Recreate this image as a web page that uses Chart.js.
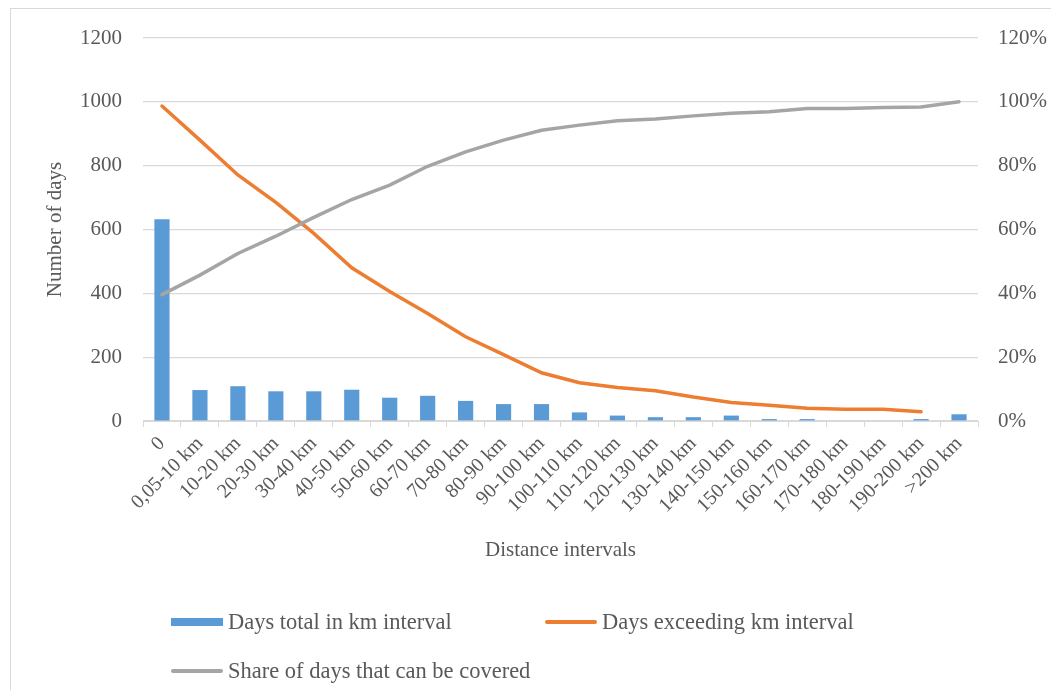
<!DOCTYPE html>
<html>
<head>
<meta charset="utf-8">
<script src="https://cdn.jsdelivr.net/npm/chart.js@4"></script>
<style>
  body { margin: 0; background: #fff; }
  #wrap { position: relative; width: 1051px; height: 690px; overflow: hidden; }
  #frame { position: absolute; left: 10px; top: 8px; width: 1060px; height: 700px; border: 1px solid #d9d9d9; }
  #chart { position: absolute; left: 0; top: 0; }
  .lg { position: absolute; display: flex; align-items: center; font: 22.5px "Liberation Serif", serif; color: #595959; white-space: nowrap; }
  .lg span.sym { display: inline-block; width: 52px; margin-right: 5px; }
</style>
</head>
<body>
<div id="wrap">
  <div id="frame"></div>
  <canvas id="chart" width="1051" height="690"></canvas>
  <div id="legend"></div>
</div>
<script>
const categories = ['0', '0,05-10 km', '10-20 km', '20-30 km', '30-40 km', '40-50 km', '50-60 km', '60-70 km',
  '70-80 km', '80-90 km', '90-100 km', '100-110 km', '110-120 km', '120-130 km', '130-140 km', '140-150 km',
  '150-160 km', '160-170 km', '170-180 km', '180-190 km', '190-200 km', '>200 km'];
const daysTotal = [632, 97, 109, 93, 93, 98, 73, 79, 63, 53, 53, 27, 17, 12, 12, 17, 6, 6, 0, 0, 6, 21];
const daysExceeding = [987, 880, 771, 685, 588, 480, 406, 337, 264, 208, 151, 120, 105, 95, 75, 58, 49, 40, 37, 37, 29, null];
const shareCovered = [39.6, 45.7, 52.5, 57.9, 63.8, 69.4, 73.9, 79.8, 84.3, 88.0, 91.1, 92.7, 94.1, 94.6, 95.6, 96.4, 96.9, 97.9, 97.9, 98.2, 98.4, 100];
const leftTicks = [0, 200, 400, 600, 800, 1000, 1200];
const rightTicks = [0, 20, 40, 60, 80, 100, 120];

const txt = '#595959';
const grid = '#d9d9d9';
const serif = '"Liberation Serif", serif';

const chart = new Chart(document.getElementById('chart'), {
  type: 'bar',
  data: {
    labels: categories,
    datasets: [{
      label: 'Days total in km interval',
      data: daysTotal,
      backgroundColor: '#5b9bd5',
      barPercentage: 0.4,
      categoryPercentage: 1,
      order: 2,
      yAxisID: 'y'
    }, {
      type: 'line',
      label: 'Days exceeding km interval',
      data: daysExceeding,
      borderColor: '#ed7d31',
      backgroundColor: '#ed7d31',
      borderWidth: 3.5,
      pointRadius: 0,
      tension: 0,
      borderCapStyle: 'round',
      order: 1,
      yAxisID: 'y'
    }, {
      type: 'line',
      label: 'Share of days that can be covered',
      data: shareCovered,
      borderColor: '#a5a5a5',
      backgroundColor: '#a5a5a5',
      borderWidth: 3.5,
      pointRadius: 0,
      tension: 0,
      borderCapStyle: 'round',
      order: 0,
      yAxisID: 'y1'
    }]
  },
  options: {
    responsive: false,
    animation: false,
    devicePixelRatio: 1,
    layout: { padding: { left: 0, right: 0, top: 38, bottom: 125 } },
    plugins: { legend: { display: false }, tooltip: { enabled: false } },
    scales: {
      x: {
        grid: { offset: true, drawOnChartArea: false, drawTicks: true, tickLength: 6, color: grid },
        border: { display: true, color: grid, width: 1 },
        ticks: { minRotation: 45, maxRotation: 45, autoSkip: false, color: txt, padding: 5, font: { family: serif, size: 20 } },
        title: { display: true, text: 'Distance intervals', color: txt, font: { family: serif, size: 21 }, padding: { top: 0, bottom: 2 } },
        afterFit: s => { s.height = 144; }
      },
      y: {
        position: 'left',
        min: 0, max: 1200,
        afterBuildTicks: s => { s.ticks = leftTicks.map(v => ({ value: v })); },
        grid: { color: grid, drawTicks: false, lineWidth: 1.2 },
        border: { display: false },
        ticks: { color: txt, padding: 21, font: { family: serif, size: 21 }, callback: v => String(v) },
        title: { display: true, text: 'Number of days', color: txt, font: { family: serif, size: 21 }, padding: { top: 43, bottom: 0 } },
        afterFit: s => { s.width = 143; }
      },
      y1: {
        position: 'right',
        min: 0, max: 120,
        afterBuildTicks: s => { s.ticks = rightTicks.map(v => ({ value: v })); },
        grid: { display: false, drawTicks: false },
        border: { display: false },
        ticks: { color: txt, padding: 20, font: { family: serif, size: 21 }, callback: v => v + '%' },
        afterFit: s => { s.width = 73; }
      }
    }
  }
});

// legend in Excel layout: two items on the first row, one on the second
const legendPos = [[171, 622], [545, 622], [171, 671]];
const legendEl = document.getElementById('legend');
chart.data.datasets.forEach((ds, i) => {
  const item = document.createElement('div');
  item.className = 'lg';
  item.style.left = legendPos[i][0] + 'px';
  item.style.top = (legendPos[i][1] - 14) + 'px';
  item.style.height = '28px';
  const sym = document.createElement('span');
  sym.className = 'sym';
  sym.style.background = ds.borderColor || ds.backgroundColor;
  sym.style.height = (ds.type === 'line' ? 4 : 8) + 'px';
  if (ds.type === 'line') sym.style.borderRadius = '2px';
  item.appendChild(sym);
  item.appendChild(document.createTextNode(ds.label));
  legendEl.appendChild(item);
});
</script>
</body>
</html>
